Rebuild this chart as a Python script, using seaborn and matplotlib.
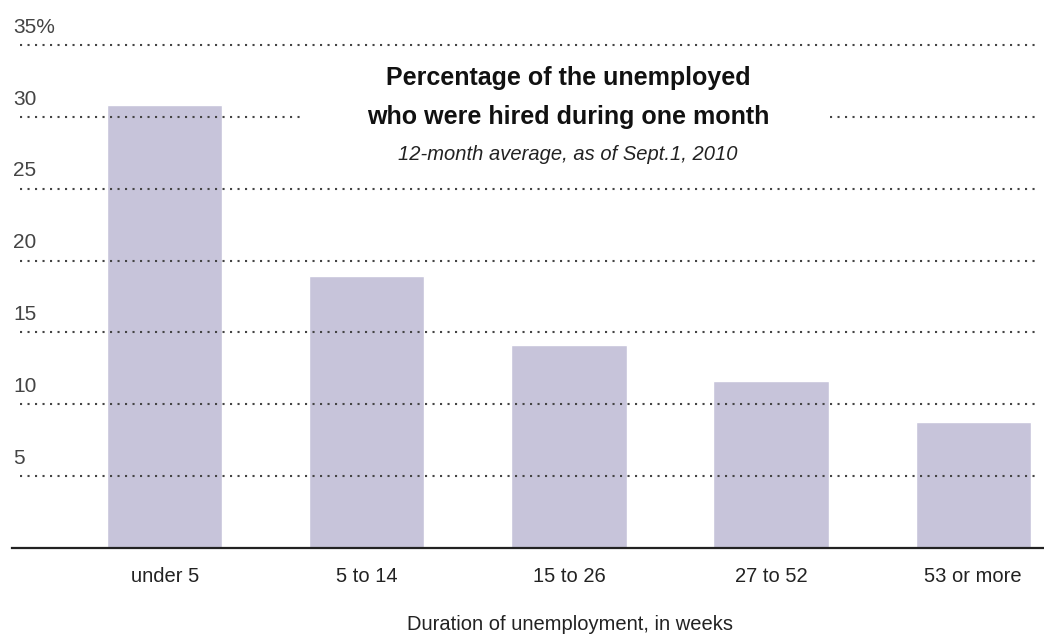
import matplotlib
matplotlib.use("Agg")
import matplotlib.pyplot as plt
from matplotlib.patches import Rectangle
import seaborn as sns
import pandas as pd

# Datos
duracion = ["under 5", "5 to 14", "15 to 26", "27 to 52", "53 or more"]
porcentaje = [30.8, 18.9, 14.1, 11.6, 8.8]
y_ticks = [5, 10, 15, 20, 25, 30, 35]
y_labels = ["5", "10", "15", "20", "25", "30", "35%"]

df = pd.DataFrame({"duracion": duracion, "porcentaje": porcentaje})

sns.set_style("white")
plt.rcParams["font.family"] = ["Liberation Sans", "DejaVu Sans"]

W, H = 1044, 642
fig = plt.figure(figsize=(W / 100, H / 100), dpi=100)
top_px, base_px = 40, 548
ax = fig.add_axes([12 / W, 1 - base_px / H, 1 - 12 / W, (base_px - top_px) / H])

sns.barplot(data=df, x="duracion", y="porcentaje", color="#c7c4da",
            saturation=1, width=0.57, ax=ax, zorder=1)

ymax = 35 * (base_px - top_px) / (base_px - 45)
ax.set_ylim(0, ymax)
ax.set_xlim(-0.755, 4.35)

# lineas punteadas por encima de las barras
for t in y_ticks:
    ax.axhline(t, xmin=0.008, xmax=0.995, color="#444444", lw=1.5,
               linestyle=(0, (1, 2.6)), zorder=3)

# etiquetas del eje y encima de cada linea
for t, lab in zip(y_ticks, y_labels):
    ax.annotate(lab, xy=(0, t), xycoords=("axes fraction", "data"),
                xytext=(1, 6), textcoords="offset points",
                ha="left", va="bottom", fontsize=15, color="#444444")

ax.set_yticks([])
ax.set_xlabel("")
ax.set_ylabel("")
ax.tick_params(axis="x", length=0, pad=14, labelsize=14.5, labelcolor="#222222")
for s in ["top", "right", "left"]:
    ax.spines[s].set_visible(False)
ax.spines["bottom"].set_color("#222222")
ax.spines["bottom"].set_linewidth(1.6)

# hueco blanco en la linea del 30 detras del titulo
fig.add_artist(Rectangle((305 / W, 1 - 128 / H), 525 / W, 22 / H,
                         transform=fig.transFigure, facecolor="white",
                         edgecolor="none", zorder=4))

# titulo dentro del area del grafico
tx = 568 / W
fig.text(tx, 1 - 78 / H, "Percentage of the unemployed", ha="center", va="center",
         fontsize=18, fontweight="bold", color="#111111", zorder=6)
fig.text(tx, 1 - 117 / H, "who were hired during one month", ha="center", va="center",
         fontsize=18, fontweight="bold", color="#111111", zorder=6)
fig.text(tx, 1 - 155 / H, "12-month average, as of Sept.1, 2010", ha="center", va="center",
         fontsize=14.5, fontstyle="italic", color="#222222", zorder=6)

fig.text(570 / W, 1 - 625 / H, "Duration of unemployment, in weeks", ha="center",
         va="center", fontsize=14.5, color="#222222")

fig.savefig("out.png", dpi=100)
